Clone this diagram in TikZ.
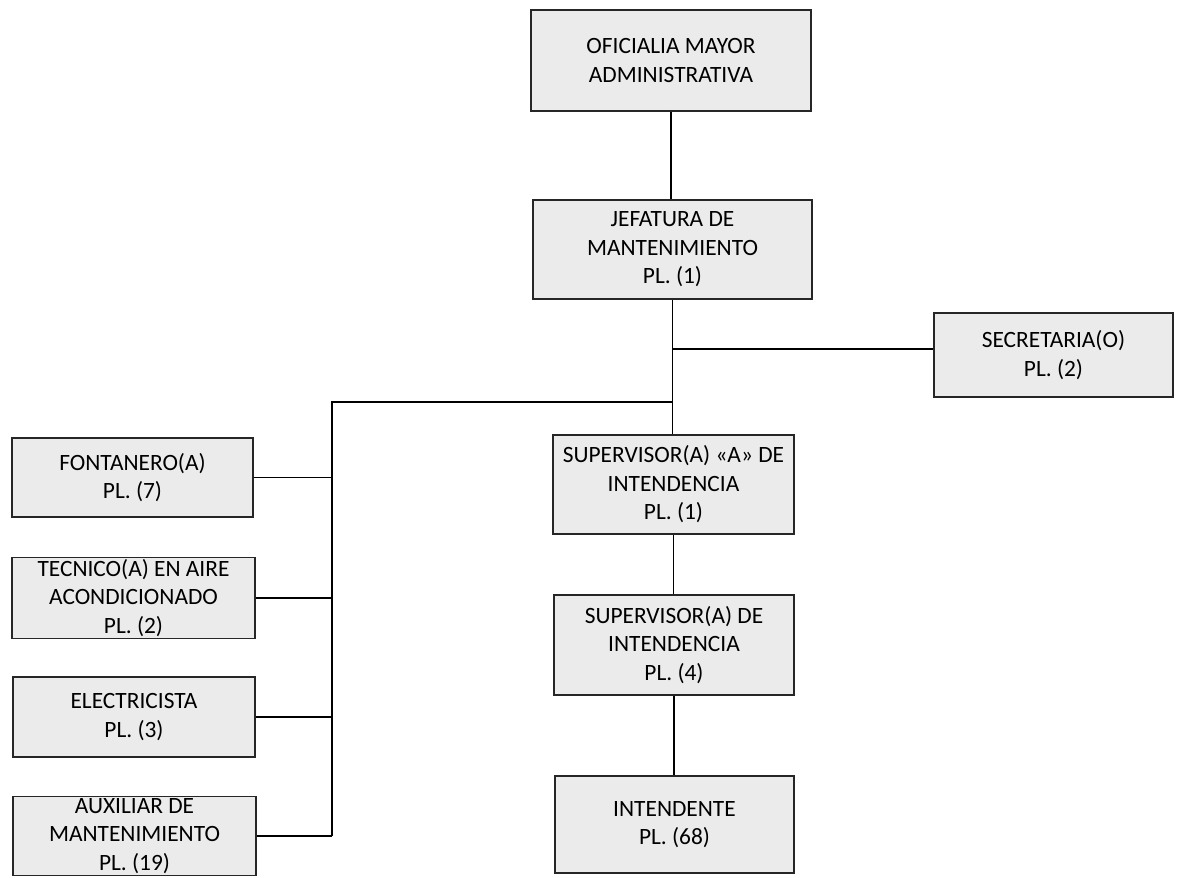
\documentclass[tikz,border=0pt]{standalone}
\usepackage{fontspec}
\setmainfont{Carlito}
\usepackage{tikz}

\tikzset{
	puesto/.style={draw=black!85, line width=0.9pt, fill=black!8, align=center, inner sep=1pt, font=\fontsize{13.3}{16.2}\selectfont},
	linea/.style={line width=1.1pt}
}

\begin{document}
\begin{tikzpicture}
		\useasboundingbox (0, 0) rectangle (23.54, 17.56);
		% Boxes:
		\node[puesto, minimum width=5.6cm, minimum height=2.02cm] (ofi) at (13.42, 16.35) {OFICIALIA MAYOR\\ADMINISTRATIVA};
		\node[puesto, minimum width=5.58cm, minimum height=1.98cm] (jef) at (13.45, 12.57) {JEFATURA DE\\MANTENIMIENTO\\PL. (1)};
		\node[puesto, minimum width=4.78cm, minimum height=1.68cm] (sec) at (21.07, 10.46) {SECRETARIA(O)\\PL. (2)};
		\node[puesto, minimum width=4.82cm, minimum height=1.98cm] (supa) at (13.47, 7.87) {SUPERVISOR(A) «A» DE\\INTENDENCIA\\PL. (1)};
		\node[puesto, minimum width=4.8cm, minimum height=2.0cm] (sup) at (13.48, 4.66) {SUPERVISOR(A) DE\\INTENDENCIA\\PL. (4)};
		\node[puesto, minimum width=4.78cm, minimum height=1.94cm] (inte) at (13.49, 1.07) {INTENDENTE\\PL. (68)};
		\node[puesto, minimum width=4.82cm, minimum height=1.58cm] (fon) at (2.65, 8.01) {FONTANERO(A)\\PL. (7)};
		\node[puesto, minimum width=4.86cm, minimum height=1.6cm] (tec) at (2.67, 5.6) {TECNICO(A) EN AIRE\\ACONDICIONADO\\PL. (2)};
		\node[puesto, minimum width=4.84cm, minimum height=1.6cm] (ele) at (2.68, 3.22) {ELECTRICISTA\\PL. (3)};
		\node[puesto, minimum width=4.86cm, minimum height=1.56cm] (aux) at (2.69, 0.84) {AUXILIAR DE\\MANTENIMIENTO\\PL. (19)};
		% Wires:
		\coordinate (secjoin) at (13.46, 10.58);
		\coordinate (bustop) at (6.64, 9.52);
		\draw[linea] (ofi.south) -- (ofi.south |- jef.north);
		\draw[linea] (jef.south) -- (jef.south |- supa.north);
		\draw[linea] (secjoin) -- (secjoin -| sec.west);
		\draw[linea] (bustop -| jef.south) -- (bustop) -- (bustop |- aux.east);
		\foreach \n in {fon, tec, ele, aux}
			\draw[linea] (\n.east) -- (\n.east -| bustop);
		\draw[linea] (supa.south) -- (supa.south |- sup.north);
		\draw[linea] (sup.south) -- (sup.south |- inte.north);
\end{tikzpicture}
\end{document}
